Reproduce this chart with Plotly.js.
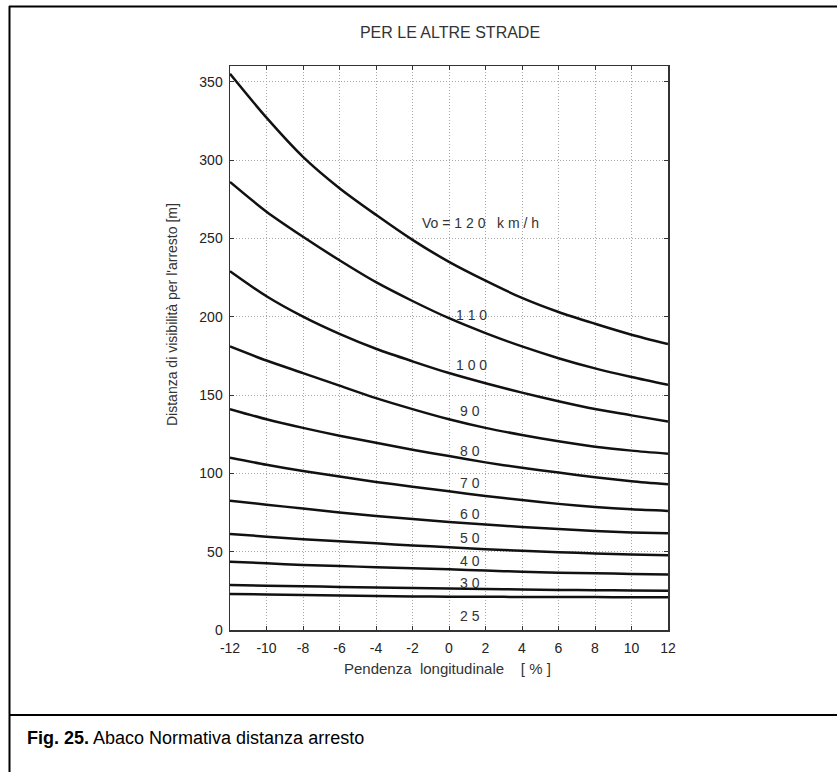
<!DOCTYPE html>
<html>
<head>
<meta charset="utf-8">
<script src="https://cdn.plot.ly/plotly-3.0.1.min.js"></script>
<style>html,body{margin:0;padding:0;background:#fff;}#chart{width:837px;height:772px;}</style>
</head>
<body>
<div id="chart"></div>
<script>
// Pendenza longitudinale [%]
const slope = [-12, -10, -8, -6, -4, -2, 0, 2, 4, 6, 8, 10, 12];
// Distanza di visibilità per l'arresto [m], one curve per Vo [km/h]
const d120 = [355, 327, 302, 282, 265, 249, 235, 223, 212, 203, 195.5, 188.5, 182.5];
const d110 = [286, 267, 251, 236, 222, 210, 199, 189.5, 181, 173.5, 167, 161.5, 156.5];
const d100 = [229, 213, 200, 189, 179.5, 171.5, 164, 157.5, 151.5, 146, 141, 137, 133];
const d90  = [181, 172, 164, 156, 148, 141, 134.5, 129, 124.5, 120.5, 117, 114.5, 112.5];
const d80  = [141, 134.5, 129, 124, 119.5, 115, 111, 107, 103.5, 100.5, 97.5, 95, 93];
const d70  = [110, 105.5, 101.5, 98, 94.5, 91.5, 88.5, 85.5, 83, 80.5, 78.5, 77, 76];
const d60  = [82.5, 80, 77.5, 75, 72.8, 70.8, 69, 67.3, 65.8, 64.4, 63.2, 62.3, 61.7];
const d50  = [61.3, 59.6, 58, 56.6, 55.3, 54, 52.8, 51.6, 50.6, 49.7, 48.9, 48.2, 47.7];
const d40  = [43.6, 42.6, 41.5, 40.9, 40, 39.4, 38.7, 37.9, 37.2, 36.6, 36.2, 35.8, 35.5];
const d30  = [28.7, 28.3, 27.9, 27.5, 27.1, 26.8, 26.5, 26.2, 25.9, 25.6, 25.4, 25.2, 25.1];
const d25  = [23, 22.7, 22.3, 22, 21.7, 21.4, 21.3, 21.2, 21.1, 21.0, 21.0, 20.9, 20.9];

const curves = [d120, d110, d100, d90, d80, d70, d60, d50, d40, d30, d25];

// Curve labels
const labelTexts = ["Vo = 1 2 0\u00a0\u00a0 k m / h", "1 1 0", "1 0 0", "9 0", "8 0", "7 0", "6 0", "5 0", "4 0", "3 0", "2 5"];
const labelX = [-1.6, 0.25, 0.25, 0.5, 0.5, 0.5, 0.5, 0.5, 0.5, 0.5, 0.5];
const labelY = [260, 201, 169, 139.5, 114, 93.7, 74, 59, 44, 30.2, 9];

const xTicks = [-12, -10, -8, -6, -4, -2, 0, 2, 4, 6, 8, 10, 12];
const yTicks = [0, 50, 100, 150, 200, 250, 300, 350];

const FONT = "Liberation Sans, Arial, sans-serif";

const traces = curves.map(c => ({
  x: slope, y: c, type: 'scatter', mode: 'lines',
  line: {color: '#111', width: 2.5, shape: 'spline', smoothing: 0.8},
  hoverinfo: 'skip', showlegend: false
}));

// plot area in px: left 230, right 668, top 66, bottom 630
const px = v => (v - 230) / 438;
const py = v => (630 - v) / 564;

const annotations = labelTexts.map((t, i) => ({
  x: labelX[i], y: labelY[i], xref: 'x', yref: 'y', text: t, showarrow: false,
  xanchor: 'left', yanchor: 'middle', font: {family: FONT, size: 14, color: '#333'}
}));

annotations.push({
  x: px(172), y: py(315), xref: 'paper', yref: 'paper', textangle: -90,
  text: "Distanza di visibilità per l'arresto [m]", showarrow: false,
  xanchor: 'center', yanchor: 'middle', font: {family: FONT, size: 14, color: '#333'}
});
annotations.push({
  x: px(447), y: py(668), xref: 'paper', yref: 'paper',
  text: "Pendenza\u00a0 longitudinale\u00a0\u00a0\u00a0 [ % ]", showarrow: false,
  xanchor: 'center', yanchor: 'middle', font: {family: FONT, size: 15, color: '#333'}
});
annotations.push({
  x: px(25), y: py(738), xref: 'paper', yref: 'paper',
  text: "<b>Fig. 25.</b> Abaco Normativa distanza arresto", showarrow: false,
  xanchor: 'left', yanchor: 'middle', font: {family: FONT, size: 18, color: '#000'}
});

const shapes = [
  {type: 'line', xref: 'paper', yref: 'paper', x0: px(9), x1: px(837), y0: py(6.5), y1: py(6.5), line: {color: '#000', width: 2}},
  {type: 'line', xref: 'paper', yref: 'paper', x0: px(9.5), x1: px(9.5), y0: py(6), y1: py(772), line: {color: '#000', width: 2}},
  {type: 'line', xref: 'paper', yref: 'paper', x0: px(9), x1: px(837), y0: py(715), y1: py(715), line: {color: '#000', width: 2}}
];

const layout = {
  width: 837, height: 772,
  margin: {l: 230, r: 169, t: 66, b: 142},
  paper_bgcolor: '#fff', plot_bgcolor: '#fff',
  title: {text: 'PER LE ALTRE STRADE', x: 450 / 837, y: 1 - 32 / 772, xanchor: 'center', yanchor: 'middle',
          font: {family: FONT, size: 16, color: '#333'}},
  xaxis: {
    range: [-12, 12], tickvals: xTicks, ticktext: xTicks.map(String),
    showgrid: true, gridcolor: '#a8a8a8', griddash: '1px,2px', gridwidth: 1,
    zeroline: false, showline: true, linecolor: '#333', linewidth: 1.5, mirror: 'ticks',
    ticks: 'inside', ticklen: 4, tickcolor: '#333', ticklabelstandoff: 5,
    tickfont: {family: FONT, size: 14, color: '#222'}
  },
  yaxis: {
    range: [0, 360], tickvals: yTicks, ticktext: yTicks.map(String),
    showgrid: true, gridcolor: '#a8a8a8', griddash: '1px,2px', gridwidth: 1,
    zeroline: false, showline: true, linecolor: '#333', linewidth: 1.5, mirror: 'ticks',
    ticks: 'inside', ticklen: 4, tickcolor: '#333', ticklabelstandoff: 3,
    tickfont: {family: FONT, size: 14, color: '#222'}
  },
  annotations: annotations,
  shapes: shapes,
  showlegend: false
};

Plotly.newPlot('chart', traces, layout, {staticPlot: true, displayModeBar: false});
</script>
</body>
</html>
